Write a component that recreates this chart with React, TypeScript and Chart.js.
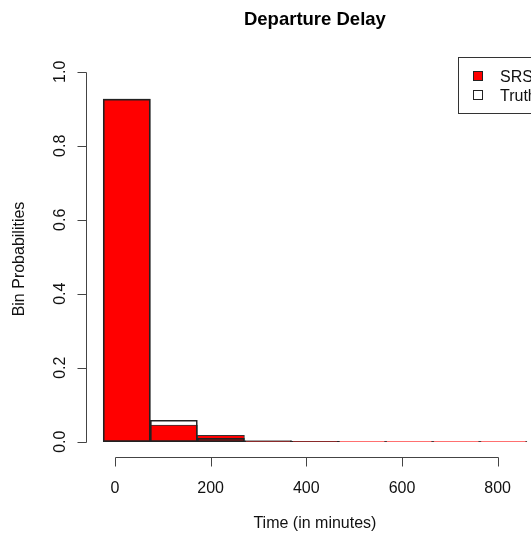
import React, { useEffect, useRef } from "react";
import { Chart, registerables } from "chart.js";

Chart.register(...registerables);

// ---- data ----
const binCenters = [24.7, 123.1, 221.5, 319.9, 418.3, 516.7, 615.1, 713.5, 811.9];
const srsValues = [0.926, 0.045, 0.017, 0.002, 0.0008, 0.0003, 0.0002, 0.0001, 0.0001];
const truthValues = [0.926, 0.058, 0.009, 0.003, 0.0012, 0.0005, 0.0003, 0.0002, 0.0001];
const xTicks = [0, 200, 400, 600, 800];
const xTickLabels = ["0", "200", "400", "600", "800"];
const yTicks = [0, 0.2, 0.4, 0.6, 0.8, 1.0];
const yTickLabels = ["0.0", "0.2", "0.4", "0.6", "0.8", "1.0"];
const legendLabels = ["SRS", "Truth"];
const titleText = "Departure Delay";
const xTitle = "Time (in minutes)";
const yTitle = "Bin Probabilities";

const X_MIN = -60.5;
const X_MAX = 869.7;
const X_FULL = 896.5;
const Y_MIN = -0.04;
const Y_MAX = 1.04;

const FONT = '"Liberation Sans", Arial, Helvetica, sans-serif';
const RED = "#ff0000";

const rPlugin = {
  id: "rStyle",
  afterDraw(chart: any) {
    const { ctx, chartArea, scales } = chart;
    const xs = scales.x;
    const ys = scales.y;
    ctx.save();
    ctx.lineWidth = 1;
    ctx.strokeStyle = "#444";
    ctx.fillStyle = "#111";

    // x axis
    const axY = Math.round(chartArea.bottom) + 0.5;
    const x0 = Math.round(xs.getPixelForValue(xTicks[0])) + 0.5;
    const x1 = Math.round(xs.getPixelForValue(xTicks[xTicks.length - 1])) + 0.5;
    ctx.beginPath();
    ctx.moveTo(x0, axY);
    ctx.lineTo(x1, axY);
    xTicks.forEach((v) => {
      const px = Math.round(xs.getPixelForValue(v)) + 0.5;
      ctx.moveTo(px, axY);
      ctx.lineTo(px, axY + 9);
    });
    ctx.stroke();
    ctx.font = `16px ${FONT}`;
    ctx.textAlign = "center";
    ctx.textBaseline = "alphabetic";
    xTicks.forEach((v, i) => {
      ctx.fillText(xTickLabels[i], xs.getPixelForValue(v), 493);
    });

    // y axis
    const axX = Math.round(chartArea.left) + 0.5;
    const y0 = Math.round(ys.getPixelForValue(yTicks[0])) + 0.5;
    const y1 = Math.round(ys.getPixelForValue(yTicks[yTicks.length - 1])) + 0.5;
    ctx.beginPath();
    ctx.moveTo(axX, y0);
    ctx.lineTo(axX, y1);
    yTicks.forEach((v) => {
      const py = Math.round(ys.getPixelForValue(v)) + 0.5;
      ctx.moveTo(axX, py);
      ctx.lineTo(axX - 9, py);
    });
    ctx.stroke();
    yTicks.forEach((v, i) => {
      ctx.save();
      ctx.translate(65, ys.getPixelForValue(v));
      ctx.rotate(-Math.PI / 2);
      ctx.fillText(yTickLabels[i], 0, 0);
      ctx.restore();
    });

    const plotRight = xs.getPixelForValue(X_FULL);
    const plotCenterX = (chartArea.left + plotRight) / 2;

    // axis titles
    ctx.fillStyle = "#111";
    ctx.fillText(xTitle, plotCenterX, 528);
    ctx.save();
    ctx.translate(24, 259);
    ctx.rotate(-Math.PI / 2);
    ctx.fillText(yTitle, 0, 0);
    ctx.restore();

    // main title
    ctx.font = `bold 18.5px ${FONT}`;
    ctx.fillStyle = "#000";
    ctx.fillText(titleText, plotCenterX, 25);

    // legend (top right of the full plot region, partly off-canvas)
    const boxW = 86;
    const boxLeft = Math.round(plotRight - boxW) + 0.5;
    const boxTop = Math.round(chartArea.top) + 0.5;
    ctx.strokeStyle = "#333";
    ctx.strokeRect(boxLeft, boxTop, boxW, 56);
    const fills = [RED, "#ffffff"];
    ctx.font = `16px ${FONT}`;
    ctx.textAlign = "left";
    legendLabels.forEach((lab, i) => {
      const cy = boxTop + 19 + i * 19;
      ctx.fillStyle = fills[i];
      ctx.fillRect(boxLeft + 15, cy - 5, 9, 9);
      ctx.strokeStyle = "#222";
      ctx.strokeRect(boxLeft + 15, cy - 5, 9, 9);
      ctx.fillStyle = "#111";
      ctx.fillText(lab, boxLeft + 41.5, cy + 5.5);
    });

    ctx.restore();
  },
};

export default function App() {
  const ref = useRef<HTMLCanvasElement>(null);
  useEffect(() => {
    const chart = new Chart(ref.current as HTMLCanvasElement, {
      type: "bar",
      data: {
        datasets: [
          {
            label: legendLabels[0],
            data: binCenters.map((x, i) => ({ x, y: srsValues[i] })),
            backgroundColor: RED,
            borderColor: "#333",
            borderWidth: 1,
            borderSkipped: false,
            order: 2,
          } as any,
          {
            label: legendLabels[1],
            data: binCenters.map((x, i) => ({ x, y: truthValues[i] })),
            backgroundColor: "rgba(255,255,255,0)",
            borderColor: "#222",
            borderWidth: 1,
            borderSkipped: false,
            order: 1,
          } as any,
        ],
      },
      options: {
        responsive: false,
        animation: false,
        devicePixelRatio: 1,
        layout: { padding: { left: 86, top: 57, right: 0, bottom: 76.5 } },
        datasets: {
          bar: { grouped: false, barPercentage: 1, categoryPercentage: 1 },
        } as any,
        scales: {
          x: {
            type: "linear",
            min: X_MIN,
            max: X_MAX,
            offset: false,
            grid: { offset: false },
            display: false,
            afterBuildTicks: (s: any) => {
              s.ticks = xTicks.map((v) => ({ value: v }));
            },
          },
          y: { type: "linear", min: Y_MIN, max: Y_MAX, display: false },
        },
        plugins: {
          legend: { display: false },
          tooltip: { enabled: false },
          title: { display: false },
        },
      } as any,
      plugins: [rPlugin],
    });
    return () => chart.destroy();
  }, []);
  return (
    <canvas
      ref={ref}
      width={531}
      height={533}
      style={{ position: "absolute", left: 0, top: 0, width: 531, height: 533 }}
    />
  );
}
